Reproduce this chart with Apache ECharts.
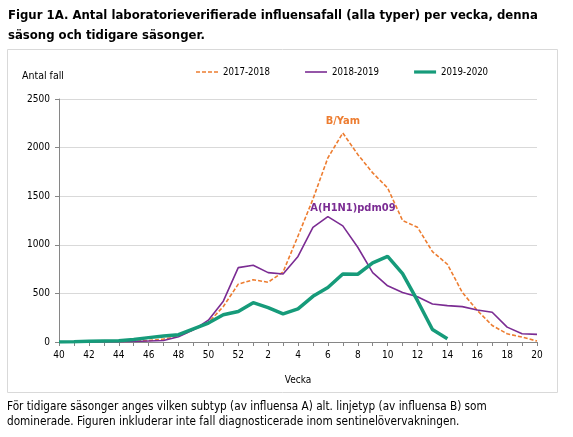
<!DOCTYPE html>
<html>
<head>
<meta charset="utf-8">
<script src="https://cdn.jsdelivr.net/npm/echarts@6/dist/echarts.min.js"></script>
<style>
html,body{margin:0;padding:0;background:#fff;}
#c{width:573px;height:437px;}
</style>
</head>
<body>
<div id="c"></div>
<script>
var weeks = ['40','41','42','43','44','45','46','47','48','49','50','51','52','1','2','3','4','5','6','7','8','9','10','11','12','13','14','15','16','17','18','19','20'];
var s2017 = [0,2,3,5,5,8,15,30,60,125,200,365,595,640,615,720,1090,1470,1895,2150,1930,1740,1585,1250,1180,930,800,510,325,170,85,50,10];
var s2018 = [0,1,2,2,3,5,10,15,55,125,225,420,765,790,714,700,880,1180,1290,1195,975,714,578,510,466,391,374,364,330,306,153,85,78];
var s2019 = [0,3,8,10,12,25,45,62,75,135,195,280,313,405,354,289,340,470,561,700,697,815,880,704,425,129,34,null,null,null,null,null,null];
var yTicks = [0,500,1000,1500,2000,2500];

var FONT = '"DejaVu Sans Condensed","DejaVu Sans","Liberation Sans",sans-serif';

function withLabel(arr, idx, text, color, offset, dist) {
  return arr.map(function (v, i) {
    if (i !== idx) return v;
    return {
      value: v,
      label: {
        show: true, position: 'top', distance: dist, offset: offset,
        formatter: text, color: color, fontWeight: 'bold', fontSize: 11, fontFamily: FONT
      }
    };
  });
}

var chart = echarts.init(document.getElementById('c'), null, {renderer: 'canvas'});
chart.setOption({
  animation: false,
  textStyle: {fontFamily: FONT},
  title: [
    {
      text: 'Figur 1A. Antal laboratorieverifierade influensafall (alla typer) per vecka, denna\nsäsong och tidigare säsonger.',
      left: 8, top: 6, padding: 0,
      textStyle: {fontFamily: FONT, fontSize: 13, fontWeight: 'bold', color: '#000', lineHeight: 20}
    },
    {
      text: 'Antal fall',
      left: 22, top: 71, padding: 0,
      textStyle: {fontFamily: FONT, fontSize: 10.5, fontWeight: 'normal', color: '#000'}
    },
    {
      text: 'För tidigare säsonger anges vilken subtyp (av influensa A) alt. linjetyp (av influensa B) som\ndominerade. Figuren inkluderar inte fall diagnosticerade inom sentinelövervakningen.',
      left: 7, top: 399, padding: 0,
      textStyle: {fontFamily: FONT, fontSize: 11.7, fontWeight: 'normal', color: '#000', lineHeight: 15}
    }
  ],
  graphic: [
    {type: 'rect', shape: {x: 7.5, y: 49.5, width: 550, height: 343}, style: {fill: 'none', stroke: '#d9d9d9', lineWidth: 1}, z: -1}
  ],
  legend: {
    top: 67, left: 196, padding: 0,
    itemWidth: 22, itemHeight: 4, itemGap: 35,
    textStyle: {fontFamily: FONT, fontSize: 9.6, color: '#000'},
    data: [
      {name: '2017-2018', icon: 'path://M0,0L0,0M0,4L0,4M0,1.2h4v1.6h-4z M6,1.2h4v1.6h-4z M12,1.2h4v1.6h-4z M18,1.2h4v1.6h-4z'},
      {name: '2018-2019', icon: 'path://M0,0L0,0M0,4L0,4M0,1.2h22v1.6h-22z'},
      {name: '2019-2020', icon: 'path://M0,0L0,0M0,4L0,4M0,0.4h22v3.2h-22z'}
    ]
  },
  grid: {left: 59, right: 36, top: 99, bottom: 95},
  xAxis: {
    type: 'category',
    data: weeks,
    boundaryGap: false,
    name: 'Vecka',
    nameLocation: 'middle',
    nameGap: 33,
    nameTextStyle: {fontFamily: FONT, fontSize: 10, color: '#000'},
    axisLine: {lineStyle: {color: '#868686', width: 1}},
    axisTick: {show: true, interval: 0, length: 4, lineStyle: {color: '#868686'}},
    axisLabel: {interval: 1, margin: 8, fontFamily: FONT, fontSize: 10, color: '#000'},
    splitLine: {show: false}
  },
  yAxis: {
    type: 'value',
    min: yTicks[0], max: yTicks[yTicks.length - 1], interval: yTicks[1] - yTicks[0],
    axisLine: {show: true, lineStyle: {color: '#868686', width: 1}},
    axisTick: {show: true, length: 4, lineStyle: {color: '#868686'}},
    axisLabel: {margin: 9, fontFamily: FONT, fontSize: 10, color: '#000', formatter: function (v) { return String(v); }},
    splitLine: {lineStyle: {color: '#d9d9d9', width: 1}}
  },
  series: [
    {
      name: '2017-2018', type: 'line', data: withLabel(s2017, 19, 'B/Yam', '#ED7D31', [0, 0], 6),
      showSymbol: true, symbol: 'circle', symbolSize: 0.01,
      lineStyle: {color: '#ED7D31', width: 1.6, type: [4, 2]},
      itemStyle: {color: '#ED7D31'},
      z: 2
    },
    {
      name: '2018-2019', type: 'line', data: withLabel(s2018, 18, 'A(H1N1)pdm09', '#7B2C93', [25, 0], 3),
      showSymbol: true, symbol: 'circle', symbolSize: 0.01,
      lineStyle: {color: '#7B2C93', width: 1.6},
      itemStyle: {color: '#7B2C93'},
      z: 3
    },
    {
      name: '2019-2020', type: 'line', data: s2019,
      showSymbol: false, symbol: 'none', connectNulls: false,
      lineStyle: {color: '#169B7A', width: 3.5},
      itemStyle: {color: '#169B7A'},
      z: 4
    }
  ]
});
</script>
</body>
</html>
